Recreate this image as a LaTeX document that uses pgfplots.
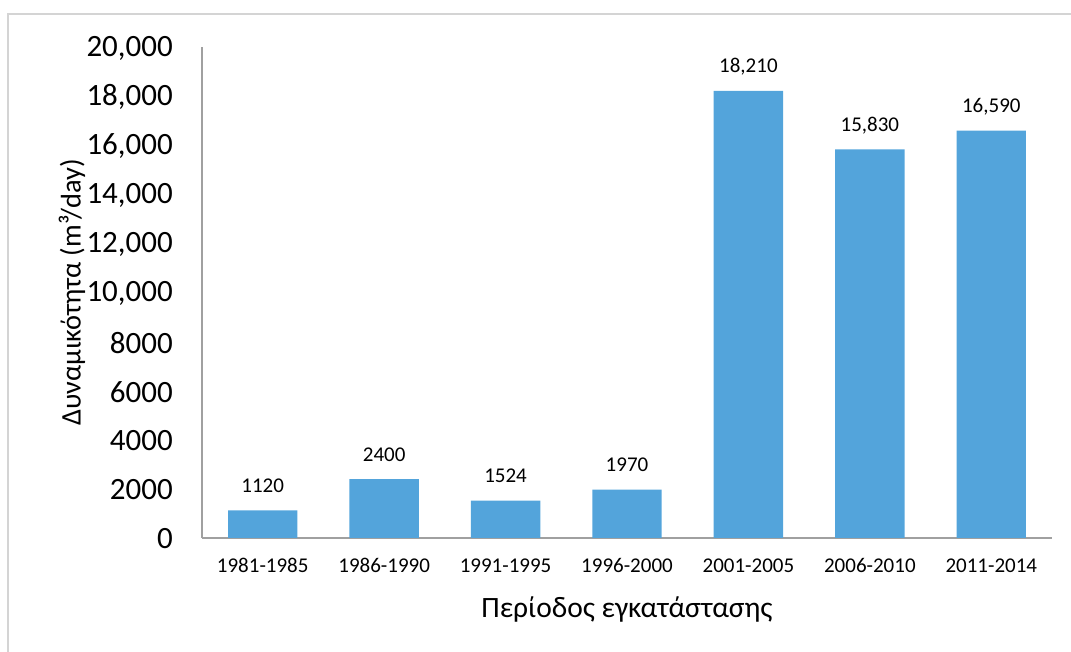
\documentclass[border=0pt]{standalone}
\usepackage{pgfplots}
\pgfplotsset{compat=1.18}
\usepackage{pgfplotstable}
\usepackage{fontspec}
\setmainfont{Carlito}

\definecolor{barblue}{RGB}{83,164,219}
\definecolor{axisgray}{RGB}{160,160,160}
\definecolor{framegray}{RGB}{212,212,212}

% capacity per installation period (m^3/day)
\pgfplotstableread{
x  cap    lab
0  1120   1120
1  2400   2400
2  1524   1524
3  1970   1970
4  18210  18,210
5  15830  15,830
6  16590  16,590
}\capdata

\begin{document}
\begin{tikzpicture}[x=1pt,y=1pt]
\useasboundingbox (0,0) rectangle (1071,652);
% outer frame (top and left edges)
\draw[framegray, line width=2pt] (8,0) -- (8,638) -- (1071,638);
\begin{axis}[
  at={(202pt,114pt)}, anchor=south west,
  scale only axis,
  width=850pt, height=491pt,
  xmin=-0.5, xmax=6.5,
  ymin=0, ymax=20000,
  scaled y ticks=false,
  axis x line=bottom, axis y line=left,
  axis line style={axisgray, line width=1.5pt, -},
  xtick=data,
  xticklabels={1981-1985,1986-1990,1991-1995,1996-2000,2001-2005,2006-2010,2011-2014},
  ytick={0,2000,...,20000},
  yticklabels={0,2000,4000,6000,8000,{10,000},{12,000},{14,000},{16,000},{18,000},{20,000}},
  major tick length=0pt,
  tick style={draw=none},
  yticklabel style={font=\fontsize{31}{35}\selectfont, anchor=east, inner sep=0pt, xshift=-29pt, yshift=-1pt},
  xticklabel style={font=\fontsize{21}{25}\selectfont, anchor=base, inner sep=0pt, yshift=-35pt},
  ylabel={Δυναμικότητα (m³/day)},
  ylabel style={font=\fontsize{28.4}{32}\selectfont, at={(axis description cs:-0.153,0.50)}, anchor=center, rotate=0},
  xlabel={Περίοδος εγκατάστασης},
  xlabel style={font=\fontsize{29.5}{33}\selectfont, at={(axis description cs:0.5,0)}, anchor=base, yshift=-80pt},
  ybar, bar width=69.4pt,
  nodes near coords,
  point meta=explicit symbolic,
  every node near coord/.append style={font=\fontsize{21}{25}\selectfont, anchor=base, inner sep=0pt, yshift=18pt, black},
  clip=false,
]
\addplot[fill=barblue, draw=none] table[x=x, y=cap, meta=lab] {\capdata};
\end{axis}
\end{tikzpicture}
\end{document}
